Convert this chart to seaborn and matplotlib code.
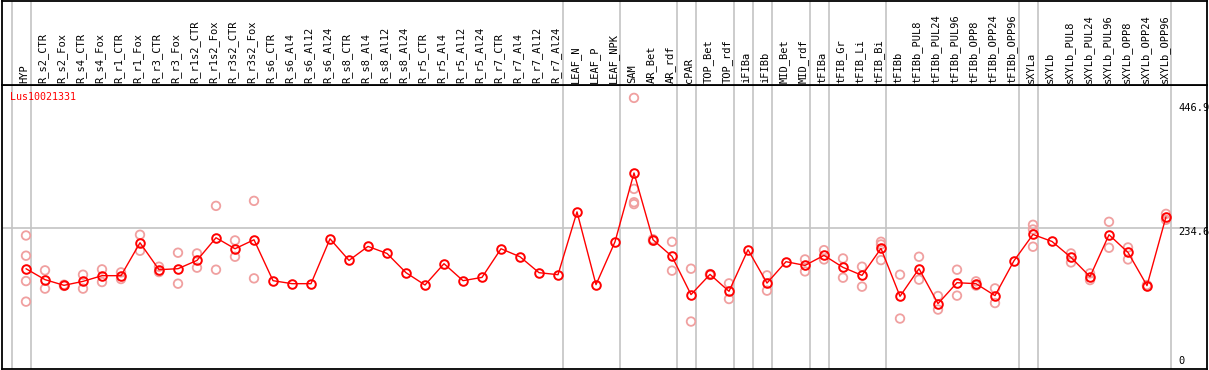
import matplotlib
matplotlib.use("Agg")

import numpy as np
import pandas as pd
import matplotlib.pyplot as plt
import seaborn as sns

# -------------------------
# DATA
# -------------------------
gene = "Lus10021331"

categories = [
    "HYP",
    "R_s2_CTR", "R_s2_Fox", "R_s4_CTR", "R_s4_Fox",
    "R_r1_CTR", "R_r1_Fox", "R_r3_CTR", "R_r3_Fox",
    "R_r1s2_CTR", "R_r1s2_Fox", "R_r3s2_CTR", "R_r3s2_Fox",
    "R_s6_CTR", "R_s6_Al4", "R_s6_Al12", "R_s6_Al24",
    "R_s8_CTR", "R_s8_Al4", "R_s8_Al12", "R_s8_Al24",
    "R_r5_CTR", "R_r5_Al4", "R_r5_Al12", "R_r5_Al24",
    "R_r7_CTR", "R_r7_Al4", "R_r7_Al12", "R_r7_Al24",
    "LEAF_N", "LEAF_P", "LEAF_NPK",
    "SAM", "AR_Bet", "AR_rdf", "cPAR", "TOP_Bet", "TOP_rdf",
    "iFIBa", "iFIBb", "MID_Bet", "MID_rdf",
    "tFIBa", "tFIB_Gr", "tFIB_Li", "tFIB_Bi", "tFIBb",
    "tFIBb_PUL8", "tFIBb_PUL24", "tFIBb_PUL96",
    "tFIBb_OPP8", "tFIBb_OPP24", "tFIBb_OPP96",
    "sXYLa", "sXYLb",
    "sXYLb_PUL8", "sXYLb_PUL24", "sXYLb_PUL96",
    "sXYLb_OPP8", "sXYLb_OPP24", "sXYLb_OPP96",
]

means = [
    167.2,
    149.3, 140.0, 146.5, 155.8,
    155.8, 209.7, 165.6, 167.2,
    180.8, 217.9, 199.9, 214.6,
    147.6, 142.7, 142.7, 216.2,
    180.8, 203.7, 192.2, 160.7,
    140.5, 175.4, 147.6, 153.0,
    199.9, 186.8, 160.7, 157.4,
    260.3, 141.1, 211.3,
    324.0, 214.6, 187.3, 124.8, 157.9, 130.2,
    198.3, 143.7, 178.7, 172.6,
    189.0, 169.4, 156.3, 200.4, 122.0,
    167.2, 110.0, 144.3,
    142.7, 123.1, 180.3,
    223.3, 211.8,
    185.7, 154.2, 222.8,
    193.9, 139.5, 252.2,
]

replicates = [
    [221.6, 188.5, 147.0, 113.3],
    [164.5, 134.6], [141.0, 139.0], [157.4, 134.6], [166.1, 145.4],
    [161.2, 150.3], [222.8, 196.6], [170.5, 161.7], [193.4, 142.7],
    [192.2, 168.9], [270.1, 165.6], [213.5, 186.8], [278.3, 151.4],
    [], [], [], [],
    [], [], [], [],
    [], [], [], [],
    [], [], [], [],
    [], [], [],
    [446.9, 297.9, 276.0, 273.0], [215.5, 213.0], [211.3, 164.0],
    [167.2, 80.7], [158.5, 157.0], [143.2, 117.6],
    [], [156.3, 131.3], [], [182.4, 162.8],
    [197.6, 182.4], [184.0, 152.5], [170.5, 137.8], [211.3, 206.9, 181.3],
    [157.4, 85.6],
    [186.8, 149.3], [122.5, 100.3], [165.6, 123.1],
    [146.5, 139.5], [135.0, 111.0], [],
    [239.1, 231.4, 203.2], [],
    [192.2, 177.5], [159.6, 148.6], [244.0, 201.5],
    [202.0, 182.4], [140.5, 138.5], [257.0, 247.3],
]

# groups end after these category indices (-1 = before the first)
group_ends = [-1, 0, 28, 31, 34, 35, 37, 38, 39, 41, 42, 45, 52, 53, 60]

y_top = 446.9
y_ref = 234.6

# -------------------------
# TABLES
# -------------------------
n = len(categories)
mean_df = pd.DataFrame({"pos": np.arange(n), "value": means})

rep_rows = []
for i, vals in enumerate(replicates):
    for v in vals:
        rep_rows.append({"pos": i, "value": v})
rep_df = pd.DataFrame(rep_rows)

# -------------------------
# FIGURE
# -------------------------
sns.set_style("white")
plt.rcParams["font.family"] = ["DejaVu Sans Mono", "DejaVu Sans"]

W, H = 1209, 370
fig = plt.figure(figsize=(W / 100, H / 100), dpi=100)

ax = fig.add_axes([1.5 / W, 1 / H, 1205 / W, 284 / H])
hdr = fig.add_axes([1.5 / W, 285 / H, 1205 / W, 84.5 / H])

x_lo = -(26 - 1.5) / 19
x_hi = x_lo + 1205 / 19

pale = "#f0a0a0"

sns.scatterplot(
    data=rep_df,
    x="pos",
    y="value",
    marker="o",
    s=38,
    facecolor="none",
    edgecolor=pale,
    linewidth=1.3,
    zorder=3,
    ax=ax
)

sns.lineplot(
    data=mean_df,
    x="pos",
    y="value",
    color="red",
    linewidth=1.0,
    marker="o",
    markersize=6.2,
    markerfacecolor="none",
    markeredgecolor="red",
    markeredgewidth=1.4,
    zorder=4,
    ax=ax
)

ax.axhline(y_ref, color="#c4c4c4", linewidth=1.2, zorder=1)

for a in (ax, hdr):
    for g in group_ends:
        a.axvline(g + 0.25, color="#c4c4c4", linewidth=1.2, zorder=1)
    a.set_xlim(x_lo, x_hi)
    a.set_xticks([])
    a.set_yticks([])
    a.set_xlabel("")
    a.set_ylabel("")
    for s in a.spines.values():
        s.set_visible(True)
        s.set_color("black")
        s.set_linewidth(1.3)

ax.set_ylim(3, 468)
hdr.set_ylim(0, 1)

# rotated category labels
for i, lab in enumerate(categories):
    hdr.text(
        i - 0.1, 0.025, lab,
        rotation=90,
        ha="center",
        va="bottom",
        fontsize=7.5,
        color="black"
    )

# gene name
ax.text(
    0.007, 0.958, gene,
    transform=ax.transAxes,
    ha="left",
    va="center",
    fontsize=7.2,
    color="red"
)

# value labels on the right
for val, off in [(y_top, -7.5), (y_ref, -3), (0, 7)]:
    ax.annotate(
        f"{val:g}",
        xy=(60.63, val),
        xytext=(0, off),
        textcoords="offset points",
        ha="left",
        va="center",
        fontsize=7.5,
        color="black",
        annotation_clip=False
    )

fig.savefig("out.png", dpi=100)
plt.close(fig)
